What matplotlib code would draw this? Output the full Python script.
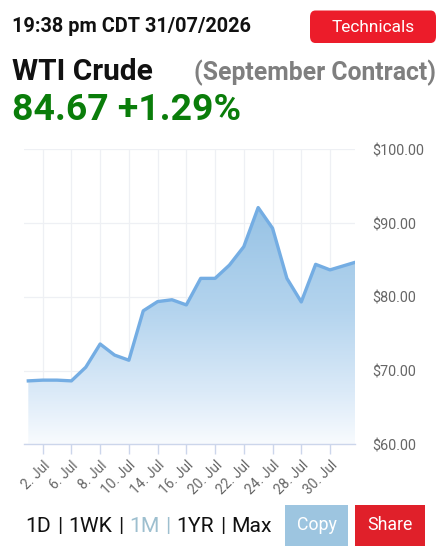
import numpy as np
import matplotlib
matplotlib.use("Agg")
import matplotlib.pyplot as plt
from matplotlib.patches import FancyBboxPatch, Rectangle
from matplotlib.colors import LinearSegmentedColormap

plt.rcParams['font.family'] = ['Roboto', 'DejaVu Sans']

# ---- data ----
day_pos = [0, 1, 2, 3, 4, 5, 6, 7, 8, 9, 10, 11, 12, 13, 14, 15, 16, 17, 18, 19, 20, 21, 22.74]
prices = [68.6, 68.7, 68.7, 68.6, 70.45, 73.6, 72.1, 71.4, 78.1, 79.35, 79.6, 78.9,
          82.5, 82.5, 84.3, 86.8, 92.1, 89.3, 82.5, 79.3, 84.4, 83.65, 84.67]
tick_pos = [1, 3, 5, 7, 9, 11, 13, 15, 17, 19, 21]
tick_labels = ["2. Jul", "6. Jul", "8. Jul", "10. Jul", "14. Jul", "16. Jul",
               "20. Jul", "22. Jul", "24. Jul", "28. Jul", "30. Jul"]
y_ticks = [60, 70, 80, 90, 100]
y_labels = ["$60.00", "$70.00", "$80.00", "$90.00", "$100.00"]

W, H = 444, 557
fig = plt.figure(figsize=(W / 100, H / 100), dpi=100)
fig.patch.set_facecolor("white")

def fx(px):
    return px / W

def fy(py):
    return 1 - py / H

# axes
left, right = 24, 355
top, bottom = 149.3, 444.3
ax = fig.add_axes([fx(left), fy(bottom), fx(right - left), (bottom - top) / H])
ax.set_xlim(-0.3, 22.74)
ax.set_ylim(60, 100)

# gradient fill
poly = ax.fill_between(day_pos, prices, 60, color="none", lw=0)
cmap = LinearSegmentedColormap.from_list(
    "g", [(0.0, "#f8fbfe"), (0.22, "#dbeaf8"), (0.56, "#b4d4ee"), (0.94, "#9bc5e6"), (1.0, "#98c3e5")])
grad = np.linspace(0, 1, 256).reshape(-1, 1)
im = ax.imshow(grad, extent=[-0.3, 22.74, 60, max(prices)], origin="lower",
               aspect="auto", cmap=cmap, zorder=1)
im.set_clip_path(poly.get_paths()[0], transform=ax.transData)
ax.set_xlim(-0.3, 22.74)
ax.set_ylim(60, 100)

ax.plot(day_pos, prices, color="#74ade3", lw=2.4, zorder=3, solid_joinstyle="round")

# grid
ax.set_yticks(y_ticks)
ax.set_xticks(tick_pos)
ax.grid(True, color="#eef0f4", lw=0.9, zorder=0)
ax.set_axisbelow(True)
for s in ["top", "right", "left"]:
    ax.spines[s].set_visible(False)
ax.spines["bottom"].set_color("#ccd6eb")
ax.spines["bottom"].set_linewidth(1.0)
ax.tick_params(axis="y", length=0, labelleft=False, labelright=False)
ax.tick_params(axis="x", length=7, width=1, color="#ccd6eb", pad=3)
ax.set_xticklabels(tick_labels, rotation=45, ha="right", rotation_mode="anchor",
                   color="#666666", fontsize=10)
for yv, lab in zip(y_ticks, y_labels):
    ax.annotate(lab, xy=(1, yv), xycoords=("axes fraction", "data"),
                xytext=(17, -2), textcoords="offset pixels",
                ha="left", va="center", fontsize=10.4, color="#666666")

# header
fig.text(fx(12), fy(27), "19:38 pm CDT 31/07/2026", fontsize=14.3, fontweight="bold",
         color="#111111", ha="left", va="center")
btn = FancyBboxPatch((fx(310), fy(43)), fx(126), (43 - 10.5) / H,
                     boxstyle="round,pad=0,rounding_size=0.012", transform=fig.transFigure,
                     facecolor="#ec1c2a", edgecolor="none")
fig.patches.append(btn)
fig.text(fx(373), fy(27), "Technicals", fontsize=12.4, color="white",
         ha="center", va="center")
fig.text(fx(12), fy(80), "WTI Crude", fontsize=21.5, fontweight="bold",
         color="#111111", ha="left", va="baseline")
fig.text(fx(436), fy(80), "(September Contract)", fontsize=17.8, fontweight="bold",
         color="#7f7f7f", ha="right", va="baseline")
fig.text(fx(12), fy(120), "84.67 +1.29%", fontsize=26.9, fontweight="bold",
         color="#0a7d0a", ha="left", va="baseline")

# bottom controls
parts = [("1D", "#111111"), ("|", "#111111"), ("1WK", "#111111"), ("|", "#111111"),
         ("1M", "#9dbfcf"), ("|", "#9dbfcf"), ("1YR", "#111111"), ("|", "#111111"),
         ("Max", "#111111")]
renderer = fig.canvas.get_renderer()
xcur = 25
for i, (txt, col) in enumerate(parts):
    if txt == "|":
        xcur += 6
    t = fig.text(fx(xcur), fy(531.5), txt, fontsize=15.2, color=col, ha="left", va="baseline")
    bb = t.get_window_extent(renderer=renderer)
    xcur += bb.width
    if txt == "|":
        xcur += 6

fig.patches.append(Rectangle((fx(285), fy(546)), fx(63), (546 - 505) / H,
                             transform=fig.transFigure, facecolor="#9dc5e0", edgecolor="none"))
fig.text(fx(316.5), fy(525), "Copy", fontsize=12.8, color="white", ha="center", va="center")
fig.patches.append(Rectangle((fx(355), fy(546)), fx(70), (546 - 505) / H,
                             transform=fig.transFigure, facecolor="#e0202a", edgecolor="none"))
fig.text(fx(390), fy(525), "Share", fontsize=12.8, color="white", ha="center", va="center")

fig.savefig("out.png", dpi=100, facecolor="white")
